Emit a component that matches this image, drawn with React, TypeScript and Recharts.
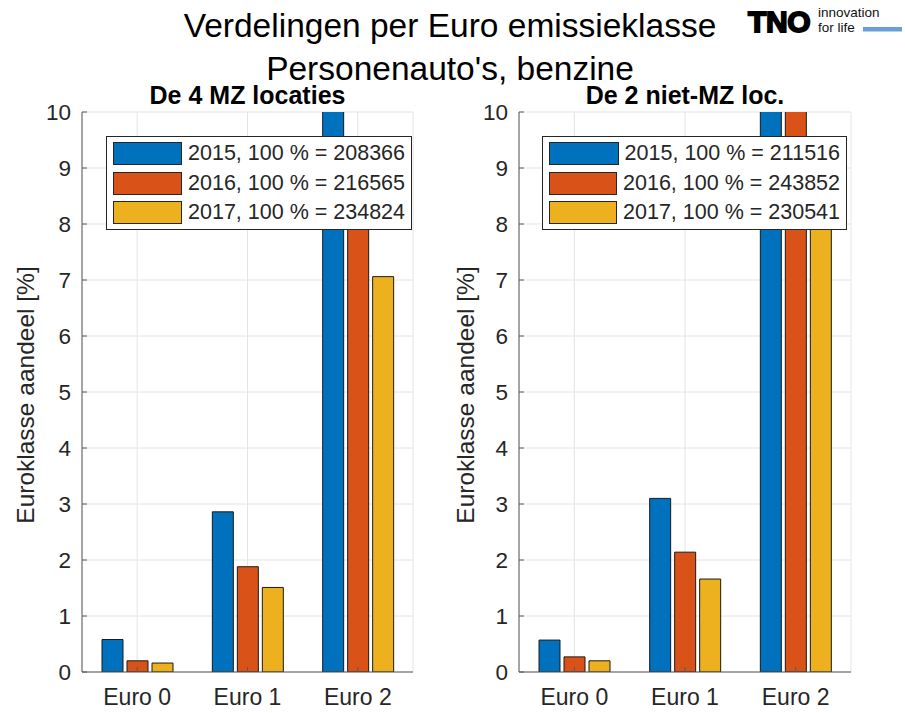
import React from "react";
import {
  BarChart,
  Bar,
  XAxis,
  YAxis,
  CartesianGrid,
  Legend,
} from "recharts";

// ---------------------------------------------------------------------------
// Data (percent share per Euro class)
// ---------------------------------------------------------------------------

const categories = ["Euro 0", "Euro 1", "Euro 2"];
const years = ["2015", "2016", "2017"];

// De 4 MZ locaties
const mzShare2015 = [0.58, 2.86, 12.4];
const mzShare2016 = [0.2, 1.88, 8.8];
const mzShare2017 = [0.16, 1.51, 7.06];
const mzTotals = [208366, 216565, 234824];

// De 2 niet-MZ loc.
const nonMzShare2015 = [0.57, 3.1, 12.9];
const nonMzShare2016 = [0.27, 2.14, 11.2];
const nonMzShare2017 = [0.2, 1.66, 9.2];
const nonMzTotals = [211516, 243852, 230541];

const yTicks = [0, 1, 2, 3, 4, 5, 6, 7, 8, 9, 10];

// ---------------------------------------------------------------------------
// Styling
// ---------------------------------------------------------------------------

const FONT = '"Liberation Sans", Arial, Helvetica, sans-serif';
const TEXT = "#262626";
const AXIS = "#595959";
const GRID = "#e4e4e4";
const COLORS = ["#0072BD", "#D95319", "#EDB120"];

function buildRows(s15: number[], s16: number[], s17: number[]) {
  return categories.map((c, i) => ({ cat: c, y2015: s15[i], y2016: s16[i], y2017: s17[i] }));
}

function legendNames(totals: number[]) {
  return years.map((y, i) => `${y}, 100 % = ${totals[i]}`);
}

// ---------------------------------------------------------------------------
// Legend box (MATLAB style)
// ---------------------------------------------------------------------------

function LegendBox({ payload }: any) {
  return (
    <div
      style={{
        border: "1px solid #262626",
        background: "#fff",
        padding: "2px 6px 1px 6px",
        fontFamily: FONT,
        fontSize: 21.5,
        color: TEXT,
      }}
    >
      {(payload || []).map((p: any, i: number) => (
        <div key={i} style={{ display: "flex", alignItems: "center", height: 29.5 }}>
          <div
            style={{
              width: 71,
              height: 23,
              background: COLORS[i],
              border: "1px solid #262626",
              marginRight: 6,
              boxSizing: "border-box",
            }}
          />
          <span style={{ whiteSpace: "nowrap" }}>{p.value}</span>
        </div>
      ))}
    </div>
  );
}

// ---------------------------------------------------------------------------
// One subplot
// ---------------------------------------------------------------------------

interface PanelProps {
  rows: ReturnType<typeof buildRows>;
  names: string[];
  left: number;
  width: number;
  marginLeft: number;
  marginRight: number;
  legendLeft: number;
  legendWidth: number;
}

function Panel({ rows, names, left, width, marginLeft, marginRight, legendLeft, legendWidth }: PanelProps) {
  return (
    <div style={{ position: "absolute", left, top: 0 }}>
      <BarChart
        width={width}
        height={713}
        data={rows}
        margin={{ top: 112, right: marginRight, bottom: 0, left: marginLeft }}
        barSize={21}
        barGap={4}
      >
        <CartesianGrid stroke={GRID} strokeWidth={1} />
        <XAxis
          dataKey="cat"
          height={41}
          stroke={AXIS}
          tickSize={-5}
          tickMargin={22}
          tick={{ fill: TEXT, fontSize: 23, fontFamily: FONT }}
          interval={0}
        />
        <XAxis
          xAxisId="top"
          dataKey="cat"
          orientation="top"
          height={0}
          stroke={AXIS}
          tickSize={-5}
          tick={false}
          interval={0}
        />
        <YAxis
          type="number"
          domain={[0, 10]}
          ticks={yTicks}
          allowDataOverflow
          width={60}
          stroke={AXIS}
          tickSize={-5}
          tickMargin={16}
          tick={{ fill: TEXT, fontSize: 22.5, fontFamily: FONT }}
          interval={0}
        />
        <YAxis
          yAxisId="right"
          type="number"
          orientation="right"
          domain={[0, 10]}
          ticks={yTicks}
          allowDataOverflow
          width={0}
          stroke={AXIS}
          tickSize={-5}
          tick={false}
          interval={0}
        />
        <Legend
          layout="vertical"
          align="center"
          verticalAlign="middle"
          width={legendWidth}
          wrapperStyle={{ left: legendLeft, top: 136 }}
          content={<LegendBox />}
        />
        <Bar dataKey="y2015" name={names[0]} fill={COLORS[0]} stroke="#1a1a1a" strokeWidth={1} isAnimationActive={false} />
        <Bar dataKey="y2016" name={names[1]} fill={COLORS[1]} stroke="#1a1a1a" strokeWidth={1} isAnimationActive={false} />
        <Bar dataKey="y2017" name={names[2]} fill={COLORS[2]} stroke="#1a1a1a" strokeWidth={1} isAnimationActive={false} />
      </BarChart>
    </div>
  );
}

// ---------------------------------------------------------------------------
// Page
// ---------------------------------------------------------------------------

export default function App() {
  return (
    <div
      style={{
        position: "absolute",
        left: 0,
        top: 0,
        width: 905,
        height: 713,
        background: "#fff",
        overflow: "hidden",
      }}
    >
      <svg width={905} height={713} style={{ position: "absolute", left: 0, top: 0 }}>
        <g fontFamily={FONT} fill={TEXT}>
          <text x={450} y={37} fontSize={33.5} textAnchor="middle" fill="#000">
            Verdelingen per Euro emissieklasse
          </text>
          <text x={450} y={80} fontSize={33.5} textAnchor="middle" fill="#000">
            Personenauto's, benzine
          </text>
          <text x={247.5} y={104} fontSize={25} fontWeight="bold" textAnchor="middle" fill="#000">
            De 4 MZ locaties
          </text>
          <text x={685} y={104} fontSize={25} fontWeight="bold" textAnchor="middle" fill="#000">
            De 2 niet-MZ loc.
          </text>
          <text
            x={0}
            y={0}
            fontSize={24.5}
            textAnchor="middle"
            transform="translate(34 395) rotate(-90)"
          >
            Euroklasse aandeel [%]
          </text>
          <text
            x={0}
            y={0}
            fontSize={24.5}
            textAnchor="middle"
            transform="translate(474 395) rotate(-90)"
          >
            Euroklasse aandeel [%]
          </text>
        </g>
        {/* TNO logo */}
        <g fontFamily={FONT}>
          <text
            x={748}
            y={32}
            fontSize={30}
            fontWeight={900}
            fill="#000"
            stroke="#000"
            strokeWidth={1.8}
            letterSpacing={-0.4}
          >
            TNO
          </text>
          <text x={818} y={17} fontSize={13.5} fill="#111">
            innovation
          </text>
          <text x={818} y={31.5} fontSize={13.5} fill="#111">
            for life
          </text>
          <rect x={863} y={27} width={39} height={4.5} fill="#6a9fd6" />
        </g>
      </svg>
      <Panel
        rows={buildRows(mzShare2015, mzShare2016, mzShare2017)}
        names={legendNames(mzTotals)}
        left={0}
        width={440}
        marginLeft={22}
        marginRight={27}
        legendLeft={106}
        legendWidth={306}
      />
      <Panel
        rows={buildRows(nonMzShare2015, nonMzShare2016, nonMzShare2017)}
        names={legendNames(nonMzTotals)}
        left={440}
        width={465}
        marginLeft={19}
        marginRight={54}
        legendLeft={102}
        legendWidth={305}
      />
    </div>
  );
}
